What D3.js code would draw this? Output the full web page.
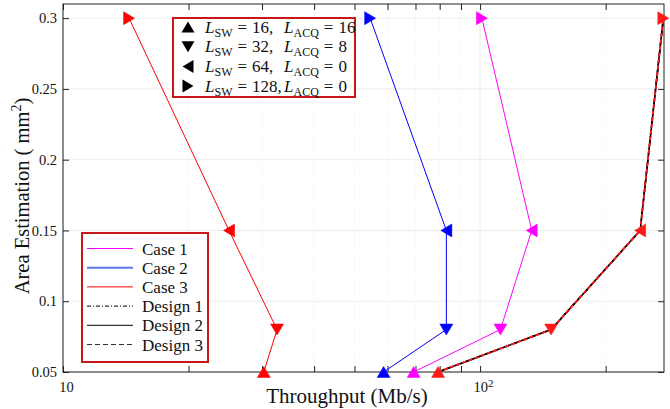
<!DOCTYPE html>
<html>
<head>
<meta charset="utf-8">
<script src="https://cdn.jsdelivr.net/npm/d3@7/dist/d3.min.js"></script>
<style>
  html, body { margin: 0; padding: 0; background: #fff; }
  svg { display: block; }
  text { font-family: "Liberation Serif", "Times New Roman", serif; fill: #111; }
</style>
</head>
<body>
<svg id="chart" width="670" height="409"></svg>
<script>
// Area levels shared by every curve (one marker shape per level)
const areaLevels = [0.05, 0.08, 0.15, 0.3];
const markerShapes = ["up", "down", "left", "right"];

// Throughput (Mb/s) at each area level
const case1Throughput = [69.3, 111.9, 133, 101];
const case2Throughput = [58.7, 83, 83, 54.5];
const case3Throughput = [30.3, 32.6, 25, 14.4];
const designThroughput = [79.3, 148, 242, 275];

// Axis ticks
const xMajorTicks = [10, 100];
const xMinorTicks = [20, 30, 40, 50, 60, 70, 80, 90, 200];
const yTicks = [0.05, 0.1, 0.15, 0.2, 0.25, 0.3];

// Marker legend rows
const markerLegendSW = ["16", "32", "64", "128"];
const markerLegendACQ = ["16", "8", "0", "0"];

const W = 670, H = 409;
const margin = { left: 63, right: 6, top: 4, bottom: 37 };
const plotL = margin.left, plotR = W - margin.right, plotT = margin.top, plotB = H - margin.bottom;

const svg = d3.select("#chart");
svg.append("rect").attr("width", W).attr("height", H).attr("fill", "#fff");

const x = d3.scaleLog().domain([10, 276]).range([plotL, plotR]);
const y = d3.scaleLinear().domain([0.05, 0.31]).range([plotB, plotT]);

// Grid
const grid = svg.append("g");
grid.selectAll("line.hy").data(yTicks).join("line")
  .attr("x1", plotL).attr("x2", plotR)
  .attr("y1", d => y(d)).attr("y2", d => y(d))
  .attr("stroke", "#ececec").attr("stroke-width", 1);
grid.selectAll("line.vx").data(xMajorTicks.concat(xMinorTicks)).join("line")
  .attr("x1", d => x(d)).attr("x2", d => x(d))
  .attr("y1", plotT).attr("y2", plotB)
  .attr("stroke", d => xMajorTicks.includes(d) ? "#ececec" : "#eeeeee")
  .attr("stroke-dasharray", d => xMajorTicks.includes(d) ? null : "1,2")
  .attr("stroke-width", 1);

// Axes with inward ticks on all sides
const allX = xMajorTicks.concat(xMinorTicks).sort((a, b) => a - b);
const tickLen = 6;

const gBottom = svg.append("g").attr("transform", `translate(0,${plotB})`)
  .call(d3.axisBottom(x).tickValues(allX).tickSize(-tickLen).tickPadding(10)
    .tickFormat(d => xMajorTicks.includes(d) ? "10" : ""));
const gTop = svg.append("g").attr("transform", `translate(0,${plotT})`)
  .call(d3.axisTop(x).tickValues(allX).tickSize(-tickLen).tickFormat(""));
const gLeft = svg.append("g").attr("transform", `translate(${plotL},0)`)
  .call(d3.axisLeft(y).tickValues(yTicks).tickSize(-tickLen).tickPadding(6)
    .tickFormat(d => String(d)));
const gRight = svg.append("g").attr("transform", `translate(${plotR},0)`)
  .call(d3.axisRight(y).tickValues(yTicks).tickSize(-tickLen).tickFormat(""));

[gBottom, gTop, gLeft, gRight].forEach(g => {
  g.select(".domain").remove();
  g.selectAll(".tick line").attr("stroke", "#222");
  g.selectAll("text").attr("font-size", 14.5)
    .attr("font-family", "'Liberation Serif', serif").attr("fill", "#111");
});
gBottom.selectAll(".tick text").attr("dx", 3);
gBottom.selectAll(".tick").filter(d => d === 100).select("text")
  .text("10").append("tspan").attr("dy", "-0.45em").attr("font-size", 11).text("2");

// Frame
svg.append("rect").attr("x", plotL).attr("y", plotT)
  .attr("width", plotR - plotL).attr("height", plotB - plotT)
  .attr("fill", "none").attr("stroke", "#222").attr("stroke-width", 1);

// Triangle marker path centered on its bounding box
function tri(dir, w, h) {
  const a = w / 2, b = h / 2;
  switch (dir) {
    case "up": return `M0,${-b}L${a},${b}L${-a},${b}Z`;
    case "down": return `M0,${b}L${a},${-b}L${-a},${-b}Z`;
    case "left": return `M${-b},0L${b},${-a}L${b},${a}Z`;
    case "right": return `M${b},0L${-b},${-a}L${-b},${a}Z`;
  }
}

const line = d3.line().x(d => x(d.t)).y(d => y(d.a));
const toPoints = arr => arr.map((t, i) => ({ t, a: areaLevels[i], shape: markerShapes[i] }));

const curves = [
  { values: case1Throughput, color: "#ff00ff", width: 1, dash: null, markers: true },
  { values: case2Throughput, color: "#0000ff", width: 1, dash: null, markers: true },
  { values: case3Throughput, color: "#ff0000", width: 1, dash: null, markers: true },
  { values: designThroughput, color: "#000", width: 1.5, dash: "4,2,1,2", markers: false },
  { values: designThroughput, color: "#000", width: 1.5, dash: null, markers: false },
  { values: designThroughput, color: "#000", width: 1.5, dash: "6,4", markers: false },
  { values: designThroughput, color: "#ff1a1a", width: 2, dash: "4,2.5", markers: true }
];

const plot = svg.append("g");
curves.forEach(c => {
  const pts = toPoints(c.values);
  plot.append("path").datum(pts).attr("d", line)
    .attr("fill", "none").attr("stroke", c.color).attr("stroke-width", c.width)
    .attr("stroke-dasharray", c.dash);
  if (c.markers) {
    plot.selectAll(null).data(pts).join("path")
      .attr("transform", d => `translate(${x(d.t)},${y(d.a)})`)
      .attr("d", d => tri(d.shape, 13, 11))
      .attr("fill", c.color).attr("stroke", c.color).attr("stroke-width", 0.5);
  }
});

// Marker legend
const legendRed = "#c8161b";
const ml = svg.append("g");
ml.append("rect").attr("x", 173).attr("y", 18).attr("width", 182).attr("height", 79)
  .attr("fill", "#fff").attr("stroke", legendRed).attr("stroke-width", 2);
markerShapes.forEach((s, i) => {
  const cy = 27 + i * 19.7;
  ml.append("path").attr("transform", `translate(188,${cy})`)
    .attr("d", tri(s, 13, 11)).attr("fill", "#000");
  const t1 = ml.append("text").attr("x", 205).attr("y", cy + 5.5).attr("font-size", 17);
  t1.append("tspan").attr("font-style", "italic").text("L");
  t1.append("tspan").attr("font-size", 12).attr("dy", 4).text("SW");
  t1.append("tspan").attr("dy", -4).attr("dx", 5).text("=");
  t1.append("tspan").attr("dx", 5).text(markerLegendSW[i] + ",");
  const t2 = ml.append("text").attr("x", 284).attr("y", cy + 5.5).attr("font-size", 17);
  t2.append("tspan").attr("font-style", "italic").text("L");
  t2.append("tspan").attr("font-size", 12).attr("dy", 4).text("ACQ");
  t2.append("tspan").attr("dy", -4).attr("dx", 5).text("=");
  t2.append("tspan").attr("dx", 5).text(markerLegendACQ[i]);
});

// Line legend
const lineLegend = [
  { label: "Case 1", color: "#ff00ff", dash: null, width: 1 },
  { label: "Case 2", color: "#5a78e8", dash: null, width: 2 },
  { label: "Case 3", color: "#ff0000", dash: null, width: 1 },
  { label: "Design 1", color: "#000", dash: "4,2,1,2", width: 1 },
  { label: "Design 2", color: "#000", dash: null, width: 1 },
  { label: "Design 3", color: "#333", dash: "5,3", width: 1.2 }
];
const ll = svg.append("g");
ll.append("rect").attr("x", 82).attr("y", 233).attr("width", 126).attr("height", 129)
  .attr("fill", "#fff").attr("stroke", legendRed).attr("stroke-width", 2);
lineLegend.forEach((d, i) => {
  const cy = 248.5 + i * 19.2;
  ll.append("line").attr("x1", 87).attr("x2", 133).attr("y1", cy).attr("y2", cy)
    .attr("stroke", d.color).attr("stroke-width", d.width).attr("stroke-dasharray", d.dash);
  ll.append("text").attr("x", 142).attr("y", cy + 6).attr("font-size", 17).text(d.label);
});

// Axis titles
svg.append("text").attr("x", 347).attr("y", 403)
  .attr("text-anchor", "middle").attr("font-size", 21).text("Throughput (Mb/s)");
const yt = svg.append("text").attr("transform", "translate(29,196) rotate(-90)")
  .attr("text-anchor", "middle").attr("font-size", 20.5);
yt.append("tspan").text("Area Estimation ( mm");
yt.append("tspan").attr("dy", -8).attr("font-size", 14).text("2");
yt.append("tspan").attr("dy", 8).text(")");
</script>
</body>
</html>
